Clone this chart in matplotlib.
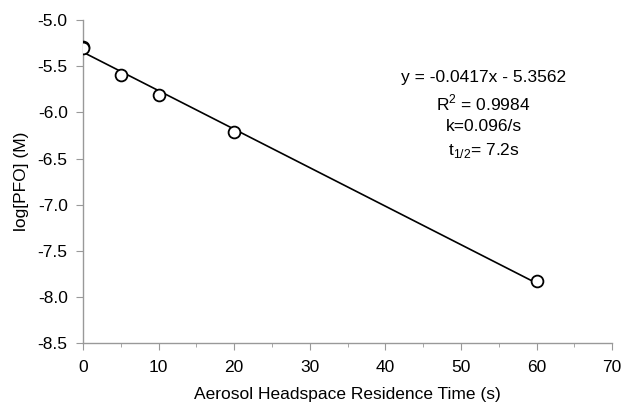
import numpy as np
import matplotlib
matplotlib.use("Agg")
from matplotlib import pyplot as plt
from matplotlib.ticker import MultipleLocator, FormatStrFormatter

# data
time_s = [0, 0, 5, 10, 20, 60]
log_pfo = [-5.295, -5.305, -5.60, -5.81, -6.21, -7.83]

plt.rcParams['font.family'] = ['Liberation Sans', 'DejaVu Sans']
plt.rcParams['mathtext.fontset'] = 'custom'
plt.rcParams['mathtext.rm'] = 'Liberation Sans'
fs = 12.5

fig = plt.figure(figsize=(6.24, 4.09), dpi=100)
ax = fig.add_axes([0.133, 0.161, 0.848, 0.79])

# linear trendline
slope, icept = np.polyfit(time_s, log_pfo, 1)
xfit = np.array([min(time_s), max(time_s)])
ax.plot(xfit, slope * xfit + icept, color='black', lw=1.2, zorder=2)
ax.plot(time_s, log_pfo, 'o', ms=8.5, mfc='white', mec='black', mew=1.3, zorder=3)

ax.set_xlim(0, 70)
ax.set_ylim(-8.5, -5.0)
ax.xaxis.set_major_locator(MultipleLocator(10))
ax.xaxis.set_minor_locator(MultipleLocator(5))
ax.yaxis.set_major_locator(MultipleLocator(0.5))
ax.yaxis.set_major_formatter(FormatStrFormatter('%.1f'))

for s in ['top', 'right']:
    ax.spines[s].set_visible(False)
for s in ['left', 'bottom']:
    ax.spines[s].set_color('#999999')
    ax.spines[s].set_linewidth(1.0)
ax.tick_params(which='both', direction='out', color='#999999', labelsize=fs)
ax.tick_params(which='major', length=5)
ax.tick_params(which='minor', length=3)
ax.tick_params(axis='x', pad=7)
ax.tick_params(axis='y', pad=6)

ax.set_xlabel('Aerosol Headspace Residence Time (s)', fontsize=fs, labelpad=9)
ax.set_ylabel('log[PFO] (M)', fontsize=fs, labelpad=6)

ax.text(0.757, 0.823, 'y = -0.0417x - 5.3562', transform=ax.transAxes, ha='center', va='center', fontsize=fs)
ax.text(0.757, 0.743, 'R$^{2}$ = 0.9984', transform=ax.transAxes, ha='center', va='center', fontsize=fs)
ax.text(0.757, 0.672, 'k=0.096/s', transform=ax.transAxes, ha='center', va='center', fontsize=fs)
ax.text(0.757, 0.597, 't$_{1/2}$= 7.2s', transform=ax.transAxes, ha='center', va='center', fontsize=fs)

fig.savefig('out.png', dpi=100)
